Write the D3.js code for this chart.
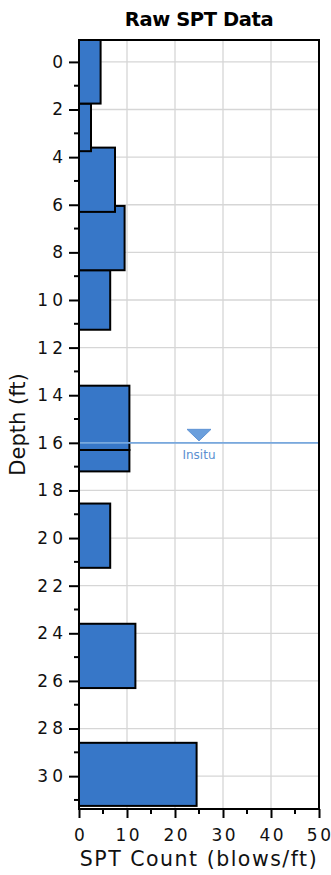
<!DOCTYPE html>
<html>
<head>
<meta charset="utf-8">
<script src="https://cdn.jsdelivr.net/npm/d3@7"></script>
<style>
  html, body { margin: 0; padding: 0; background: #fff; }
  svg { display: block; font-family: "DejaVu Sans", Verdana, sans-serif; }
</style>
</head>
<body>
<div id="chart"></div>
<script>
// SPT sample intervals (depth in ft) and blow counts
const sampleTop    = [-0.92, 1.75, 3.6, 6.05, 8.75, 13.6, 16.3, 18.55, 23.6, 28.6];
const sampleBottom = [1.75, 3.75, 6.3, 8.75, 11.25, 16.3, 17.2, 21.25, 26.3, 31.25];
const sptCount     = [4.5, 2.5, 7.5, 9.5, 6.5, 10.5, 10.5, 6.5, 11.75, 24.5];

// Axis ticks
const depthMajorTicks = d3.range(0, 31, 2);
const depthMinorTicks = d3.range(1, 32, 2);
const countMajorTicks = [0, 10, 20, 30, 40, 50];
const countMinorTicks = [5, 15, 25, 35, 45];

// Groundwater level
const waterDepth = 16;
const waterLabel = "Insitu";
const waterMarkerCount = 25;

const W = 331, H = 875;
const margin = { top: 40, right: 12, bottom: 66, left: 79 };

const svg = d3.select("#chart").append("svg")
  .attr("width", W).attr("height", H);

const x = d3.scaleLinear().domain([0, 50]).range([margin.left, W - margin.right]);
const y = d3.scaleLinear().domain([-0.92, 31.38]).range([margin.top, H - margin.bottom]);

const [x0, x1] = x.range();
const [y0, y1] = y.range();

// Title
svg.append("text")
  .attr("x", (x0 + x1) / 2).attr("y", 26)
  .attr("text-anchor", "middle")
  .attr("font-size", 19.5).attr("font-weight", "bold")
  .attr("letter-spacing", "-0.4px")
  .text("Raw SPT Data");

// Grid
const grid = svg.append("g").attr("stroke", "#d6d6d6").attr("stroke-width", 1.3);
grid.selectAll(".gx").data(countMajorTicks.slice(1, -1)).join("line")
  .attr("x1", d => x(d)).attr("x2", d => x(d))
  .attr("y1", y0).attr("y2", y1);
grid.selectAll(".gy").data(depthMajorTicks).join("line")
  .attr("x1", x0).attr("x2", x1)
  .attr("y1", d => y(d)).attr("y2", d => y(d));

// Bars, deepest first so shallower samples sit on top
svg.append("defs").append("clipPath").attr("id", "plotClip")
  .append("rect").attr("x", x0).attr("y", y0).attr("width", x1 - x0).attr("height", y1 - y0);

const bars = d3.range(sampleTop.length).reverse().map(i => ({
  top: sampleTop[i], bottom: sampleBottom[i], n: sptCount[i]
}));
svg.append("g").attr("clip-path", "url(#plotClip)")
  .selectAll("rect").data(bars).join("rect")
  .attr("x", x(0))
  .attr("y", d => y(d.top))
  .attr("width", d => x(d.n) - x(0))
  .attr("height", d => y(d.bottom) - y(d.top))
  .attr("fill", "#3777c8")
  .attr("stroke", "#000").attr("stroke-width", 2);

// Water table
const wy = y(waterDepth);
svg.append("line")
  .attr("x1", x0).attr("x2", x1).attr("y1", wy).attr("y2", wy)
  .attr("stroke", "#78a8de").attr("stroke-width", 1.8);
const wx = x(waterMarkerCount);
svg.append("path")
  .attr("d", `M${wx - 12},${wy - 13.5} L${wx + 12},${wy - 13.5} L${wx},${wy - 2} Z`)
  .attr("fill", "#6b9fdc").attr("stroke", "#5f93d4").attr("stroke-width", 1);
svg.append("text")
  .attr("x", wx).attr("y", wy + 16)
  .attr("text-anchor", "middle")
  .attr("font-size", 12).attr("fill", "#5b8fd0")
  .text(waterLabel);

// Frame
svg.append("rect")
  .attr("x", x0).attr("y", y0).attr("width", x1 - x0).attr("height", y1 - y0)
  .attr("fill", "none").attr("stroke", "#000").attr("stroke-width", 2);

// Spread the digits of a tick label apart without trailing space
function spaceDigits(sel, gap) {
  sel.each(function () {
    const t = d3.select(this);
    const chars = t.text().split("");
    t.text(null);
    chars.forEach((c, i) => t.append("tspan").attr("dx", i ? gap : 0).text(c));
  });
}

// Y axis
const yAxis = svg.append("g").attr("transform", `translate(${x0},0)`)
  .call(d3.axisLeft(y).tickValues(depthMajorTicks).tickSize(10).tickPadding(6).tickFormat(d3.format("d")));
yAxis.select(".domain").remove();
yAxis.selectAll(".tick line").attr("stroke", "#000").attr("stroke-width", 2);
yAxis.selectAll(".tick text")
  .attr("font-size", 17).attr("fill", "#111")
  .attr("font-family", "DejaVu Sans, Verdana, sans-serif")
  .call(spaceDigits, 4);
svg.append("g").selectAll("line").data(depthMinorTicks.filter(d => y(d) < y1)).join("line")
  .attr("x1", x0 - 5).attr("x2", x0)
  .attr("y1", d => y(d)).attr("y2", d => y(d))
  .attr("stroke", "#000").attr("stroke-width", 2);

// X axis
const xAxis = svg.append("g").attr("transform", `translate(0,${y1})`)
  .call(d3.axisBottom(x).tickValues(countMajorTicks).tickSize(9).tickPadding(11).tickFormat(d3.format("d")));
xAxis.select(".domain").remove();
xAxis.selectAll(".tick line").attr("stroke", "#000").attr("stroke-width", 2);
xAxis.selectAll(".tick text")
  .attr("font-size", 17).attr("fill", "#111")
  .attr("font-family", "DejaVu Sans, Verdana, sans-serif")
  .call(spaceDigits, 2.5);
// the last label sits flush with the page edge
xAxis.selectAll(".tick text").filter(d => x(d) + 13 > W)
  .attr("text-anchor", "end").attr("x", d => W - 0.5 - x(d));
svg.append("g").selectAll("line").data(countMinorTicks).join("line")
  .attr("x1", d => x(d)).attr("x2", d => x(d))
  .attr("y1", y1).attr("y2", y1 + 5)
  .attr("stroke", "#000").attr("stroke-width", 2);

// Axis titles
svg.append("text")
  .attr("x", (x0 + x1) / 2).attr("y", 866)
  .attr("text-anchor", "middle")
  .attr("font-size", 20.5).attr("letter-spacing", "1.5px").attr("fill", "#111")
  .text("SPT Count (blows/ft)");
svg.append("text")
  .attr("transform", `translate(25,${(y0 + y1) / 2}) rotate(-90)`)
  .attr("text-anchor", "middle")
  .attr("font-size", 21).attr("fill", "#111")
  .text("Depth (ft)");
</script>
</body>
</html>
